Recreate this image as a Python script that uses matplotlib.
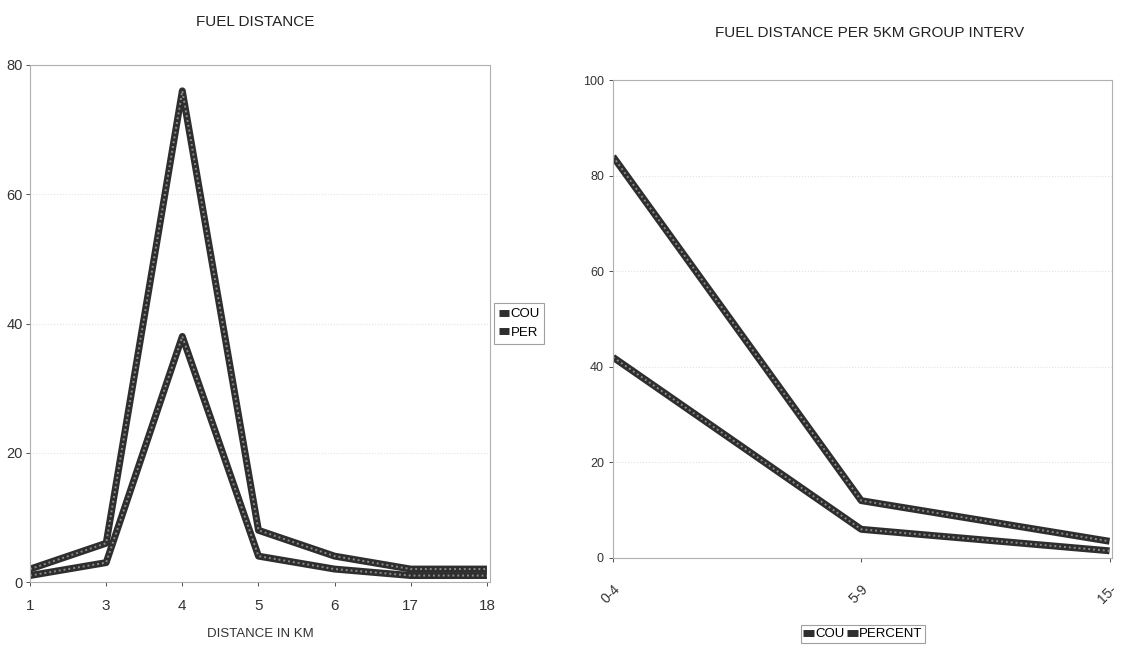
import matplotlib
matplotlib.use("Agg")
import matplotlib.pyplot as plt

plt.rcParams['font.family'] = ['Liberation Sans', 'DejaVu Sans']

# Left chart data
dist_labels = ["1", "3", "4", "5", "6", "17", "18"]
dist_count = [1, 3, 38, 4, 2, 1, 1]
dist_percent = [2, 6, 76, 8, 4, 2, 2]

# Right chart data
group_labels = ["0-4", "5-9", "15-"]
group_count = [42, 6, 1.5]
group_percent = [84, 12, 3.5]

fig = plt.figure(figsize=(11.28, 6.48), dpi=100)

LINE_C = '#2e2e2e'
SPINE_C = '#b0b0b0'


def style_axes(ax):
    for s in ax.spines.values():
        s.set_color(SPINE_C)
        s.set_linewidth(0.8)
    ax.tick_params(axis='both', colors='#333333', labelsize=10, length=3, width=0.6)
    ax.yaxis.grid(True, color='#e2e2e2', linestyle=':', linewidth=0.8)
    ax.set_axisbelow(True)


def draw_line(ax, x, y, label):
    ax.plot(x, y, color=LINE_C, linewidth=5, solid_joinstyle='round',
            solid_capstyle='butt', label=label)
    ax.plot(x, y, color='#8a8a8a', linewidth=1.4, linestyle=(0, (1, 1.5)))


# Left chart
ax1 = fig.add_axes([30 / 1128, 1 - 582 / 648, 460 / 1128, (582 - 65) / 648])
xs = list(range(len(dist_labels)))
draw_line(ax1, xs, dist_count, "COU")
draw_line(ax1, xs, dist_percent, "PER")
ax1.set_xlim(0, len(xs) - 1 + 0.04)
ax1.set_ylim(0, 80)
ax1.set_yticks([0, 20, 40, 60, 80])
ax1.set_xticks(xs)
ax1.set_xticklabels(dist_labels, fontsize=11)
style_axes(ax1)
ax1.tick_params(axis='x', pad=9, labelsize=11)
ax1.tick_params(axis='y', labelsize=10.5, pad=2)
ax1.set_xlabel("DISTANCE IN KM", fontsize=9.5, color='#333333', labelpad=11)
fig.text(255 / 1128, 1 - 22 / 648, "FUEL DISTANCE", ha='center', va='center',
         fontsize=11, color='#222222')
leg1 = ax1.legend(loc='center left', bbox_to_anchor=(1.0, 0.5), fontsize=9.5,
                  handlelength=0.8, handletextpad=0.1, frameon=True, fancybox=False,
                  borderpad=0.35, labelspacing=0.5, borderaxespad=0.3)
leg1.get_frame().set_edgecolor('#888888')
leg1.get_frame().set_linewidth(0.8)

# Right chart
ax2 = fig.add_axes([613 / 1128, 1 - 558 / 648, (1112 - 613) / 1128, (558 - 80) / 648])
gx = list(range(len(group_labels)))
draw_line(ax2, gx, group_count, "COU")
draw_line(ax2, gx, group_percent, "PERCENT")
ax2.set_xlim(0, len(gx) - 1 + 0.01)
ax2.set_ylim(0, 100)
ax2.set_yticks([0, 20, 40, 60, 80, 100])
ax2.set_xticks(gx)
ax2.set_xticklabels(group_labels, rotation=45, ha='right', rotation_mode='anchor', fontsize=10)
style_axes(ax2)
ax2.tick_params(axis='x', pad=14, labelsize=10)
ax2.tick_params(axis='y', labelsize=9)
fig.text(870 / 1128, 1 - 33 / 648, "FUEL DISTANCE PER 5KM GROUP INTERV", ha='center',
         va='center', fontsize=11, color='#222222')
leg2 = ax2.legend(loc='center', bbox_to_anchor=(863 / 1128, 1 - 634 / 648),
                  bbox_transform=fig.transFigure, ncol=2, fontsize=9.5,
                  handlelength=0.8, handletextpad=0.1, columnspacing=0.2,
                  frameon=True, fancybox=False, borderpad=0.2)
leg2.get_frame().set_edgecolor('#888888')
leg2.get_frame().set_linewidth(0.8)

fig.savefig("out.png", dpi=100, facecolor='white')
